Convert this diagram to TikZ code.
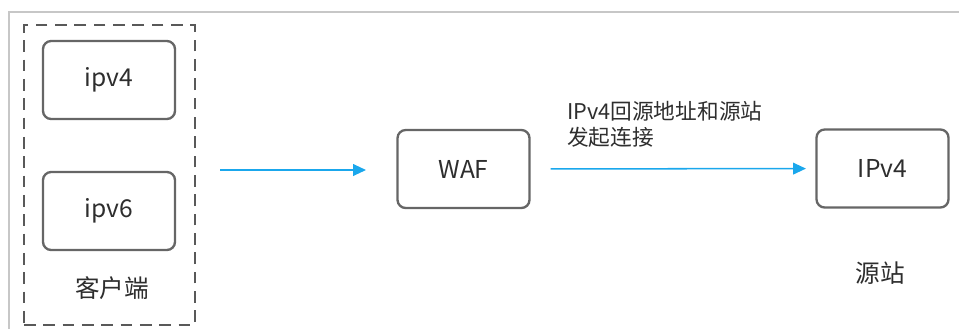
\documentclass[tikz,border=0pt]{standalone}
\usepackage{fontspec}
\setmainfont{Noto Sans CJK SC}
\usetikzlibrary{positioning,arrows.meta}
\usepackage{xcolor}
\definecolor{linkblue}{HTML}{1AA7EC}
\definecolor{boxgray}{HTML}{666666}
\definecolor{inkgray}{HTML}{2E2E2E}
\tikzset{
  hostbox/.style={draw=boxgray,line width=2pt,rounded corners=7pt,
        minimum width=3.96cm,minimum height=2.34cm,inner sep=0pt,
        text=inkgray,font=\fontsize{21}{25}\selectfont},
  caption/.style={text=inkgray,font=\fontsize{21}{25}\selectfont,inner sep=0pt},
  flow/.style={draw=linkblue,line width=1.3pt,-{Triangle[length=11pt,width=10pt]}},
}
\begin{document}
\begin{tikzpicture}[x=0.03cm,y=-0.03cm]
  \useasboundingbox (0,0) rectangle (959,329);
  % screenshot frame
  \draw[black!22,line width=0.9pt] (9,329) -- (9,12) -- (959,12);
  % client group
  \node[draw=black!65,line width=2.5pt,dash pattern=on 10pt off 6.5pt,
        minimum width=5.13cm,minimum height=9cm,inner sep=0pt] (client) at (109.5,175) {};
  \node[hostbox] (v4) at (109,80) {ipv4};
  \node[hostbox] (v6) at (109,211) {ipv6};
  \node[caption] (clientlbl) at (112,288) {客户端};
  % waf and origin
  \node[hostbox] (waf) at (463.5,169) {WAF};
  \node[hostbox] (origin) at (882.5,168.5) {IPv4};
  \node[caption] (originlbl) at (880,273) {源站};
  \coordinate (src) at (220,170);
  \coordinate (dst) at (366,170);
  \draw[flow] (src) -- (dst);
  \draw[flow,shorten <=17pt,shorten >=8pt] (waf) -- (origin);
  \node[text=inkgray,font=\fontsize{18.5}{22}\selectfont,align=left,
        anchor=west,inner sep=0pt] (note) at (567,124) {IPv4回源地址和源站\\发起连接};
\end{tikzpicture}
\end{document}
